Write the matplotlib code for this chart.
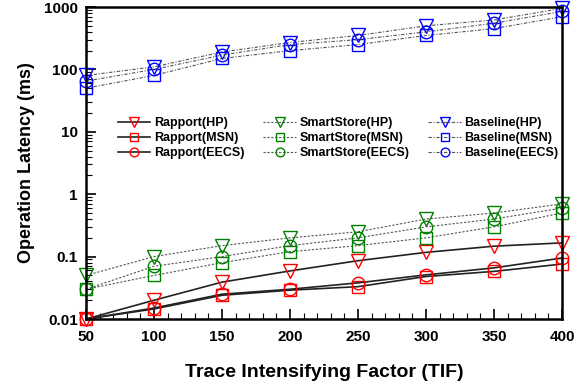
import numpy as np
import matplotlib.pyplot as plt
from matplotlib.ticker import MultipleLocator, LogLocator, FixedLocator

plt.rcParams['font.family'] = ['Liberation Sans', 'DejaVu Sans']
plt.rcParams['font.weight'] = 'bold'

tif = [50, 100, 150, 200, 250, 300, 350, 400]

# latency (ms)
rapport_hp = [0.01, 0.02, 0.039, 0.059, 0.086, 0.117, 0.147, 0.166]
rapport_msn = [0.01, 0.0145, 0.024, 0.029, 0.033, 0.048, 0.058, 0.076]
rapport_eecs = [0.01, 0.015, 0.025, 0.03, 0.038, 0.051, 0.066, 0.095]

smart_hp = [0.05, 0.1, 0.15, 0.2, 0.25, 0.4, 0.5, 0.7]
smart_msn = [0.03, 0.05, 0.08, 0.12, 0.15, 0.2, 0.3, 0.5]
smart_eecs = [0.03, 0.07, 0.1, 0.15, 0.2, 0.3, 0.4, 0.6]

base_hp = [80, 110, 190, 270, 350, 500, 620, 950]
base_msn = [50, 80, 150, 200, 250, 350, 450, 700]
base_eecs = [65, 100, 170, 250, 300, 400, 550, 850]

fig = plt.figure(figsize=(5.83, 3.9), dpi=100)
ax = fig.add_axes([0.1475, 0.182, 0.8165, 0.8])

series = [
    (rapport_hp, 'Rapport(HP)', 'v', 'red', '-'),
    (rapport_msn, 'Rapport(MSN)', 's', 'red', '-'),
    (rapport_eecs, 'Rapport(EECS)', 'o', 'red', '-'),
    (smart_hp, 'SmartStore(HP)', 'v', 'green', (0, (2, 1.5))),
    (smart_msn, 'SmartStore(MSN)', 's', 'green', (0, (2, 1.5))),
    (smart_eecs, 'SmartStore(EECS)', 'o', 'green', (0, (2, 1.5))),
    (base_hp, 'Baseline(HP)', 'v', 'blue', (0, (3, 1.5, 1, 1.5))),
    (base_msn, 'Baseline(MSN)', 's', 'blue', (0, (3, 1.5, 1, 1.5))),
    (base_eecs, 'Baseline(EECS)', 'o', 'blue', (0, (3, 1.5, 1, 1.5))),
]

for vals, name, mk, col, ls in series:
    lw = 1.2 if ls == '-' else 0.8
    lc = '#222222' if ls == '-' else '#555555'
    ax.plot(tif, vals, linestyle=ls, color=lc, linewidth=lw,
            marker=mk, markersize=10 if mk == 'v' else 9,
            markerfacecolor='none', markeredgecolor=col, markeredgewidth=1,
            label=name, clip_on=False)

ax.set_yscale('log')
ax.set_xlim(50, 400)
ax.set_ylim(0.01, 1000)
ax.xaxis.set_major_locator(MultipleLocator(50))
ax.xaxis.set_minor_locator(MultipleLocator(10))
ax.yaxis.set_major_locator(FixedLocator([0.01, 0.1, 1, 10, 100, 1000]))
ax.yaxis.set_minor_locator(LogLocator(base=10, subs=np.arange(2, 10)))
ax.set_yticklabels(['0.01', '0.1', '1', '10', '100', '1000'])

ax.tick_params(which='both', direction='in', labelsize=11)
ax.tick_params(which='major', length=7, width=1.2)
ax.tick_params(which='minor', length=4, width=0.8)
ax.tick_params(axis='x', pad=8)
ax.tick_params(axis='y', pad=6)
for s in ax.spines.values():
    s.set_linewidth(1.8)
for lbl in ax.get_xticklabels() + ax.get_yticklabels():
    lbl.set_fontweight('bold')

ax.set_xlabel('Trace Intensifying Factor (TIF)', fontsize=14, fontweight='bold', labelpad=14)
ax.set_ylabel('Operation Latency (ms)', fontsize=13, fontweight='bold', labelpad=6)

leg = ax.legend(ncol=3, loc='center', bbox_to_anchor=(0.53, 0.58), frameon=False,
                fontsize=9, handlelength=2.6, columnspacing=1.5, markerscale=0.7,
                labelspacing=0.25, handletextpad=0.3)
for t in leg.get_texts():
    t.set_fontweight('bold')

plt.savefig('out.png', dpi=100)
